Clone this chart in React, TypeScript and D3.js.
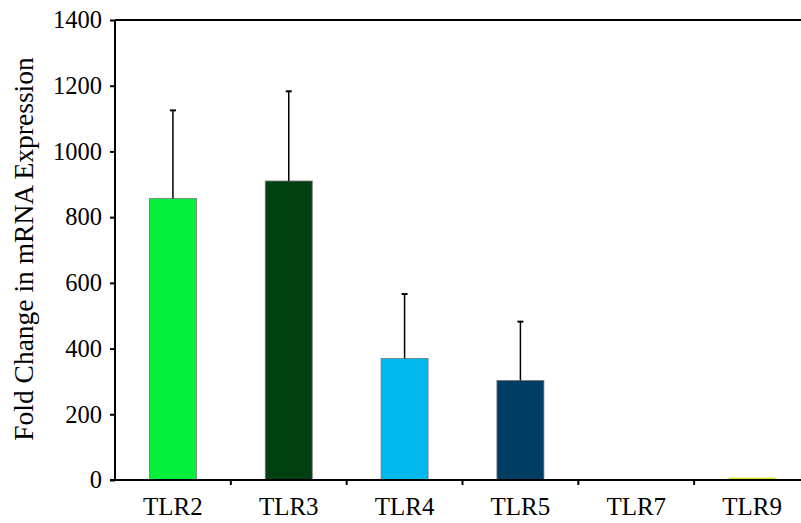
import React, { useEffect, useRef } from 'react';
import * as d3 from 'd3';

const categories = ['TLR2', 'TLR3', 'TLR4', 'TLR5', 'TLR7', 'TLR9'];
const means = [857, 910, 370, 303, 0, 7];
const errors = [268, 273, 196, 179, 0, 0];
const colors = ['#05f03c', '#024012', '#00b8ec', '#003d62', '#cccccc', '#d4e01a'];
const yTicks = [0, 200, 400, 600, 800, 1000, 1200, 1400];

const App = () => {
  const ref = useRef<SVGSVGElement>(null);

  useEffect(() => {
    const svg = d3.select(ref.current);
    svg.selectAll('*').remove();

    const left = 115;
    const right = 810;
    const top = 20;
    const bottom = 480;

    const x = d3.scaleBand().domain(categories).range([left, right]);
    const y = d3.scaleLinear().domain([0, 1400]).range([bottom, top]);
    const bw = 47;

    // top frame line
    svg.append('line')
      .attr('x1', left).attr('x2', right)
      .attr('y1', y(1400)).attr('y2', y(1400))
      .attr('stroke', '#000').attr('stroke-width', 2);

    const g = svg.append('g');

    // bars
    g.selectAll('rect.bar')
      .data(categories)
      .join('rect')
      .attr('class', 'bar')
      .attr('x', (d) => x(d)! + x.bandwidth() / 2 - bw / 2)
      .attr('width', bw)
      .attr('y', (d, i) => y(means[i]))
      .attr('height', (d, i) => bottom - y(means[i]))
      .attr('fill', (d, i) => colors[i])
      .attr('stroke', (d, i) => (means[i] > 20 ? '#777' : 'none'))
      .attr('stroke-width', 0.8);

    // error bars (upper only)
    const withErr = categories.filter((d, i) => errors[i] > 0);
    g.selectAll('line.err')
      .data(withErr)
      .join('line')
      .attr('class', 'err')
      .attr('x1', (d) => x(d)! + x.bandwidth() / 2)
      .attr('x2', (d) => x(d)! + x.bandwidth() / 2)
      .attr('y1', (d) => y(means[categories.indexOf(d)]))
      .attr('y2', (d) => {
        const i = categories.indexOf(d);
        return y(means[i] + errors[i]);
      })
      .attr('stroke', '#000').attr('stroke-width', 1.5);
    g.selectAll('line.cap')
      .data(withErr)
      .join('line')
      .attr('class', 'cap')
      .attr('x1', (d) => x(d)! + x.bandwidth() / 2 - 3)
      .attr('x2', (d) => x(d)! + x.bandwidth() / 2 + 3)
      .attr('y1', (d) => {
        const i = categories.indexOf(d);
        return y(means[i] + errors[i]);
      })
      .attr('y2', (d) => {
        const i = categories.indexOf(d);
        return y(means[i] + errors[i]);
      })
      .attr('stroke', '#000').attr('stroke-width', 2);

    // y axis
    const yAxis = svg.append('g')
      .attr('transform', `translate(${left},0)`)
      .call(d3.axisLeft(y).tickValues(yTicks).tickSize(5).tickPadding(8).tickFormat(d3.format('d')));
    yAxis.select('.domain').attr('stroke-width', 2).attr('d', `M0,${bottom}V${top}`);
    yAxis.selectAll('.tick line').attr('stroke-width', 2);
    yAxis.selectAll('text')
      .attr('font-family', '"Liberation Serif", "Times New Roman", serif')
      .attr('font-size', 24.5)
      .attr('fill', '#000');

    // x axis with ticks at category boundaries
    const xAxis = svg.append('g').attr('transform', `translate(0,${bottom})`);
    xAxis.append('line')
      .attr('x1', left - 5).attr('x2', right)
      .attr('stroke', '#000').attr('stroke-width', 2);
    xAxis.selectAll('line.tk')
      .data(categories.slice(1))
      .join('line')
      .attr('class', 'tk')
      .attr('x1', (d) => x(d)!).attr('x2', (d) => x(d)!)
      .attr('y1', 0).attr('y2', 5)
      .attr('stroke', '#000').attr('stroke-width', 2);
    xAxis.selectAll('text')
      .data(categories)
      .join('text')
      .attr('x', (d) => x(d)! + x.bandwidth() / 2)
      .attr('y', 35)
      .attr('text-anchor', 'middle')
      .attr('font-family', '"Liberation Serif", "Times New Roman", serif')
      .attr('font-size', 25)
      .attr('fill', '#000')
      .text((d) => d);

    // y label
    svg.append('text')
      .attr('transform', `translate(33,${(55 + 443) / 2}) rotate(-90)`)
      .attr('text-anchor', 'middle')
      .attr('font-family', '"Liberation Serif", "Times New Roman", serif')
      .attr('font-size', 27.5)
      .attr('fill', '#000')
      .text('Fold Change in mRNA Expression');
  }, []);

  return (
    <svg
      ref={ref}
      width={801}
      height={523}
      style={{ position: 'absolute', left: 0, top: 0, background: '#fff' }}
    />
  );
};

export default App;
